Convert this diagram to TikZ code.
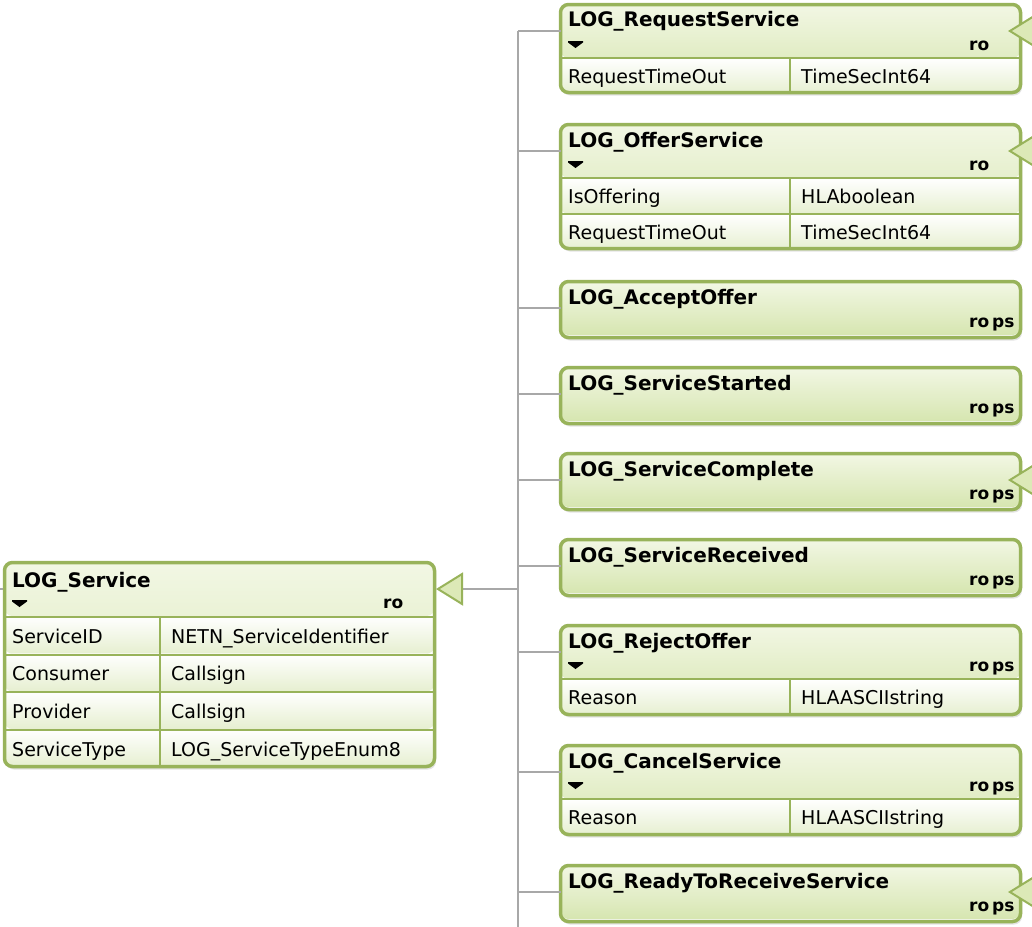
\documentclass[tikz,border=0pt]{standalone}
\usepackage{fontspec}
\setmainfont{DejaVu Sans}
\usepackage{tikz}
\usetikzlibrary{arrows.meta,shadows}
\definecolor{hlaedge}{HTML}{98B35A}
\definecolor{hlahdtop}{HTML}{F2F7E4}
\definecolor{hlahdbot}{HTML}{D5E5AE}
\definecolor{hlarow}{HTML}{E6EFD0}
\definecolor{hlatri}{HTML}{DCE9B7}
\definecolor{hlawire}{HTML}{A8A8A8}

\begin{document}
\begin{tikzpicture}[x=1pt,y=-1pt,
  attrs/.store in=\nattrs, attrs=0,
  rowh/.store in=\rowh, rowh=36pt,
  cls/.style={rectangle, anchor=north west, inner sep=0pt, outer sep=0pt,
    minimum width=460pt, rounded corners=8pt, draw=hlaedge, line width=3.5pt,
    fill=white, drop shadow={shadow xshift=1.5pt, shadow yshift=-3pt, opacity=0.22},
    path picture={
      \shade[top color=hlahdtop, bottom color=hlahdbot]
        (path picture bounding box.north west)
        rectangle ([yshift=-53.5pt]path picture bounding box.north east);
      \ifnum\nattrs>0
        \foreach \ri in {1,...,\nattrs}
          \shade[top color=white, bottom color=hlarow]
            ([yshift={-53.5pt-(\ri-1)*\rowh}]path picture bounding box.north west)
            rectangle ([yshift={-53.5pt-\ri*\rowh}]path picture bounding box.north east);
      \fi}},
  sep/.style={draw=hlaedge, line width=1.2pt},
  title/.style={anchor=base west, inner sep=0pt, font=\bfseries\fontsize{20}{24}\selectfont},
  flag/.style={anchor=base west, inner sep=0pt, font=\bfseries\fontsize{17}{20}\selectfont},
  attr/.style={anchor=base west, inner sep=0pt, font=\fontsize{19}{22}\selectfont},
  conn/.style={draw=hlawire, line width=2pt},
  genz/.style={conn, -{Triangle[length=27pt, width=33pt, color=hlaedge, fill=hlatri, line width=2pt]}}]

  \useasboundingbox[fill=white] (0,0) rectangle (1032,926);

  % trunk of the subclass tree
  \coordinate (trunk) at (518,31);
  \coordinate (trunkend) at (518,940);
  \draw[conn] (trunk) -- (trunkend);

  % base class
  \node[cls, minimum width=430pt, minimum height=204pt, attrs=4, rowh=37.7pt] (svc) at (4.5,562.5) {};
  \node[title] (svc-name) at (12,587) {LOG\_Service};
  \node[flag] (svc-flag) at (383,608) {ro};
  \fill (12,600) -- ++(15,0) -- ++(0,1.5) -- ++(-7.5,5.5) -- ++(-7.5,-5.5) -- cycle;
  \draw[sep] (4.5,617) -- (434.5,617);
  \draw[sep] (4.5,655) -- (434.5,655);
  \draw[sep] (4.5,692) -- (434.5,692);
  \draw[sep] (4.5,730) -- (434.5,730);
  \draw[sep] (160,617) -- (160,766);
  \node[attr] (svc-a1) at (12,643) {ServiceID};
  \node[attr] (svc-t1) at (171,643) {NETN\_ServiceIdentifier};
  \node[attr] (svc-a2) at (12,680) {Consumer};
  \node[attr] (svc-t2) at (171,680) {Callsign};
  \node[attr] (svc-a3) at (12,718) {Provider};
  \node[attr] (svc-t3) at (171,718) {Callsign};
  \node[attr] (svc-a4) at (12,756) {ServiceType};
  \node[attr] (svc-t4) at (171,756) {LOG\_ServiceTypeEnum8};

  % subclasses
  \foreach \id/\ty/\hh/\k/\ttl/\fl in {
      reqsvc/3/88pt/1/LOG\_RequestService/ro,
      offer/123/124pt/2/LOG\_OfferService/ro,
      accept/280/56pt/0/LOG\_AcceptOffer/ro\,ps,
      started/366/56pt/0/LOG\_ServiceStarted/ro\,ps,
      complete/452/56pt/0/LOG\_ServiceComplete/ro\,ps,
      received/538/56pt/0/LOG\_ServiceReceived/ro\,ps,
      reject/624/89pt/1/LOG\_RejectOffer/ro\,ps,
      cancel/744/89pt/1/LOG\_CancelService/ro\,ps,
      ready/864/56pt/0/LOG\_ReadyToReceiveService/ro\,ps}
  {
    \node[cls, minimum height=\hh, attrs=\k] (\id) at (560.5,\ty+1.5) {};
    \node[title] (\id-name) at (568,\ty+24) {\ttl};
    \node[flag] (\id-flag) at (969,\ty+47) {\fl};
    \coordinate (\id-in) at ([yshift=-26.5pt]\id.north west);
    \draw[conn] (\id-in) -- (\id-in -| trunk);
  }
  \foreach \ty in {3,123,624,744}
    \fill (568,\ty+38) -- ++(15,0) -- ++(0,1.5) -- ++(-7.5,5.5) -- ++(-7.5,-5.5) -- cycle;

  % attribute rows
  \draw[sep] (560.5,58) -- (1020.5,58);
  \draw[sep] (790,58) -- (790,92.5);
  \node[attr] (reqsvc-a1) at (568,83) {RequestTimeOut};
  \node[attr] (reqsvc-t1) at (801,83) {TimeSecInt64};

  \draw[sep] (560.5,178) -- (1020.5,178);
  \draw[sep] (560.5,214) -- (1020.5,214);
  \draw[sep] (790,178) -- (790,248.5);
  \node[attr] (offer-a1) at (568,203) {IsOffering};
  \node[attr] (offer-t1) at (801,203) {HLAboolean};
  \node[attr] (offer-a2) at (568,239) {RequestTimeOut};
  \node[attr] (offer-t2) at (801,239) {TimeSecInt64};

  \draw[sep] (560.5,679) -- (1020.5,679);
  \draw[sep] (790,679) -- (790,714.5);
  \node[attr] (reject-a1) at (568,704) {Reason};
  \node[attr] (reject-t1) at (801,704) {HLAASCIIstring};

  \draw[sep] (560.5,799) -- (1020.5,799);
  \draw[sep] (790,799) -- (790,834.5);
  \node[attr] (cancel-a1) at (568,824) {Reason};
  \node[attr] (cancel-t1) at (801,824) {HLAASCIIstring};

  % generalisation arrows
  \coordinate (svc-out) at ([xshift=1.5pt,yshift=-26.5pt]svc.north east);
  \coordinate (svc-in) at ([xshift=-1.5pt,yshift=-26.5pt]svc.north west);
  \coordinate (svc-ext) at (-10,589);
  \draw[conn] (svc-ext) -- (svc-in);
  \draw[genz] (svc-out -| trunk) -- (svc-out);
  \foreach \id in {reqsvc,offer,complete,ready} {
    \coordinate (\id-out) at ([xshift=-12.5pt,yshift=-26.5pt]\id.north east);
    \coordinate (\id-sub) at ([xshift=40pt]\id-out);
    \draw[genz] (\id-sub) -- (\id-out);
  }
\end{tikzpicture}
\end{document}
